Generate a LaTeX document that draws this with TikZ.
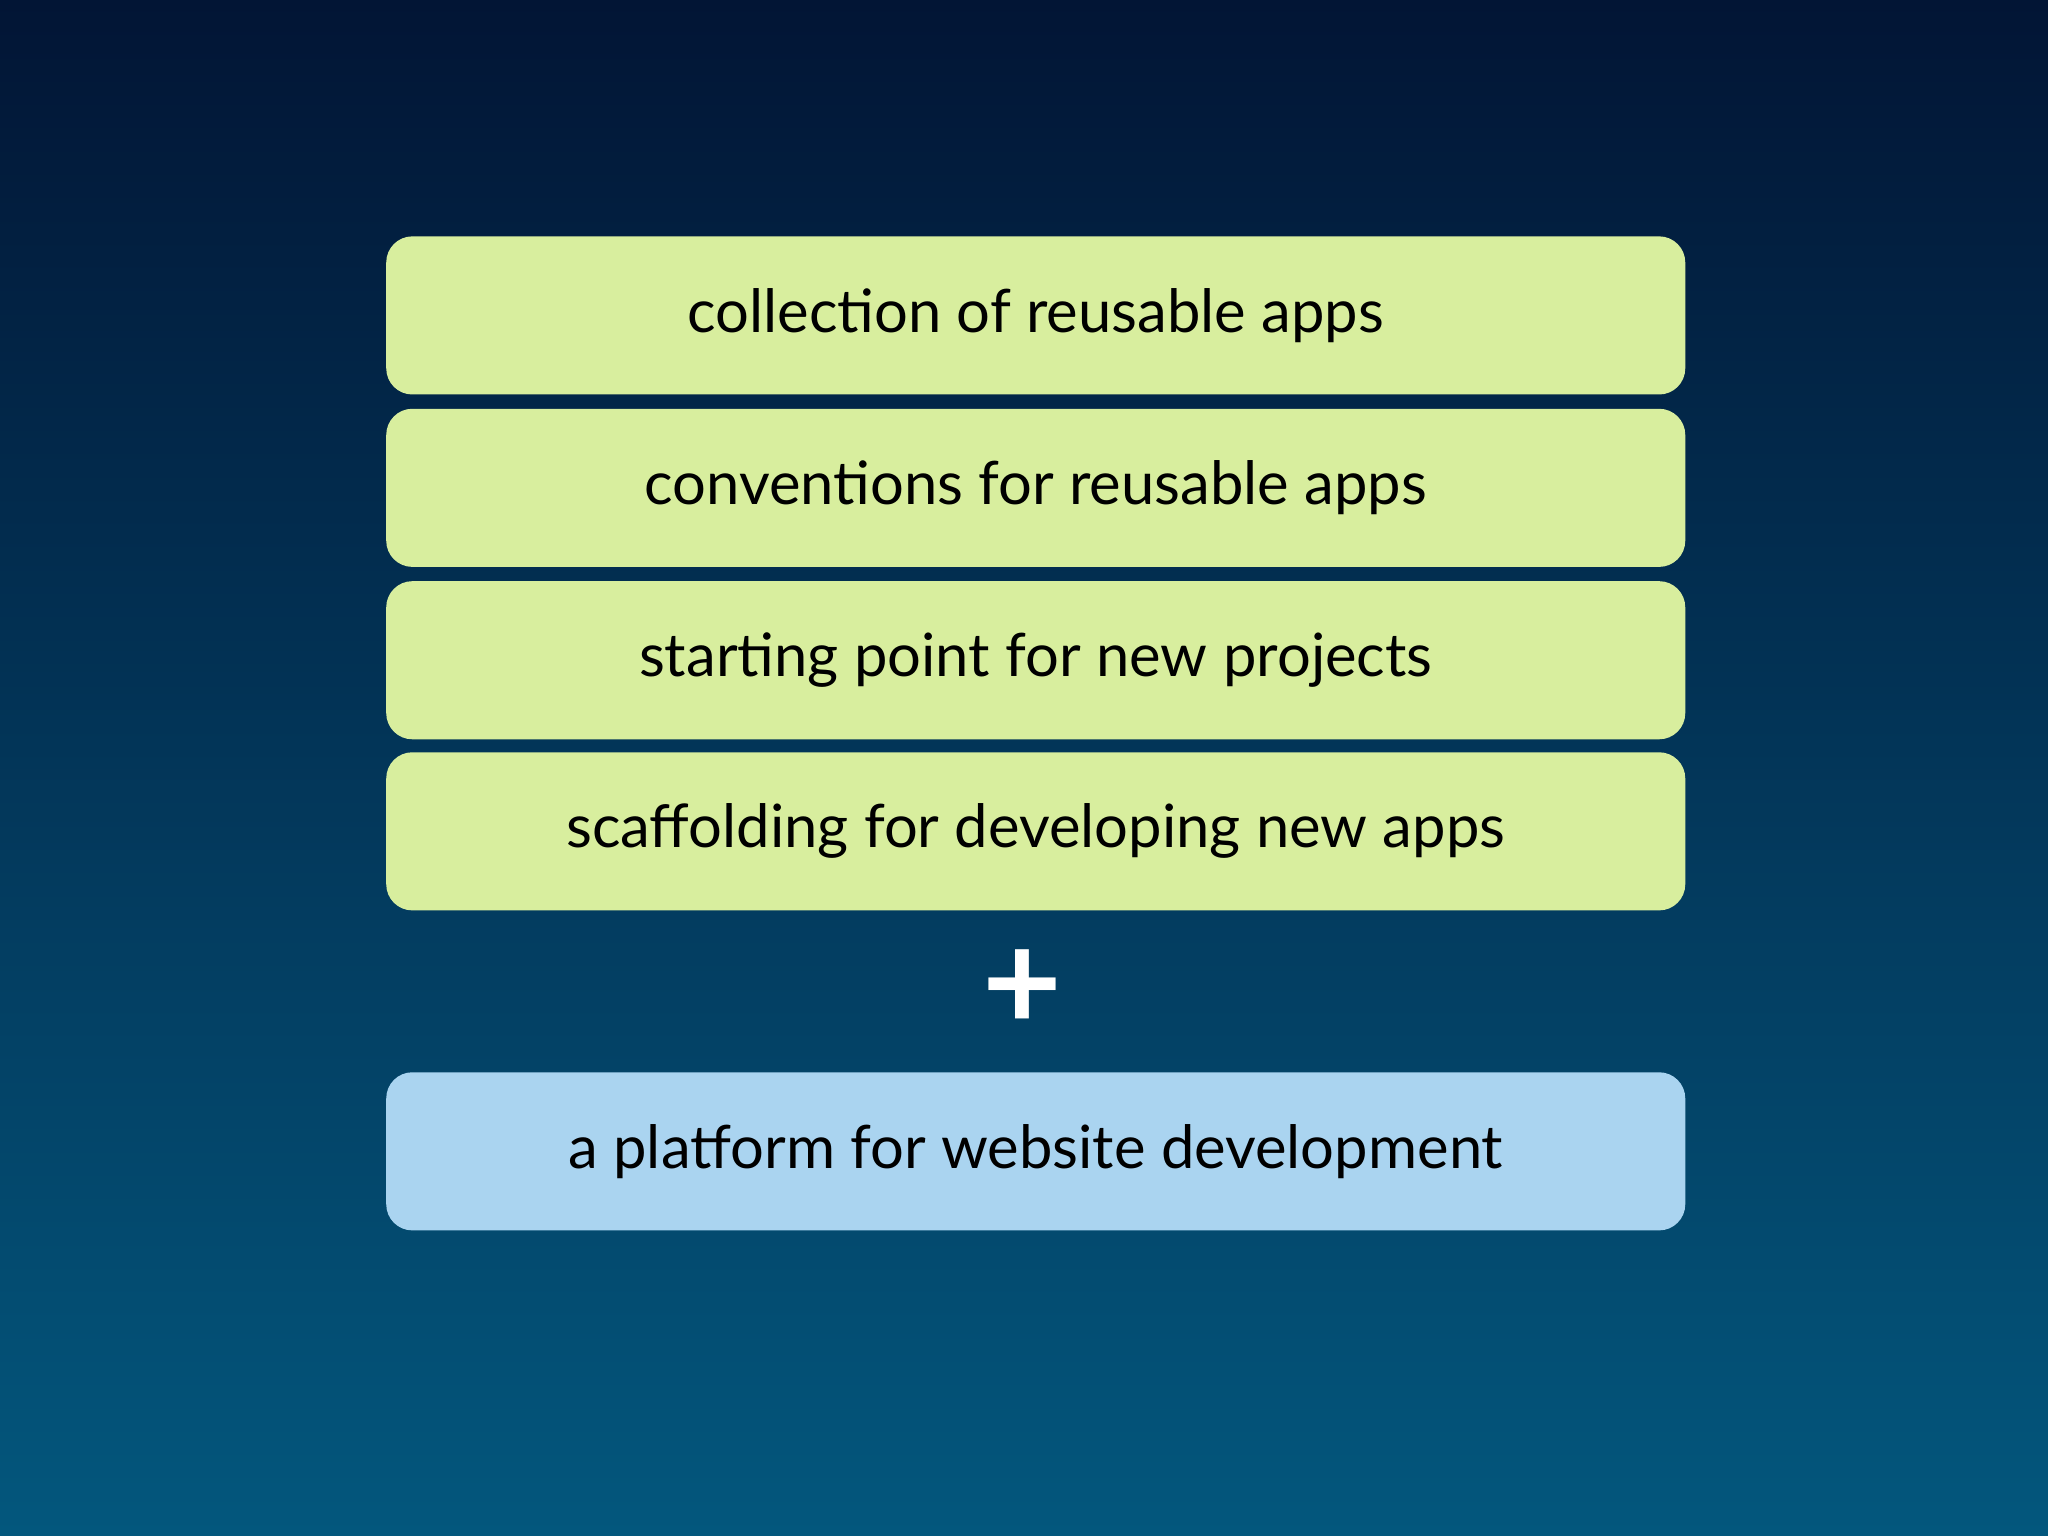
\documentclass[tikz,border=0pt]{standalone}
\usepackage{fontspec}
\setmainfont{Lato}
\definecolor{bgtop}{HTML}{021535}
\definecolor{bgbot}{HTML}{03577D}
\definecolor{boxg}{HTML}{D8EE9E}
\definecolor{boxb}{HTML}{AAD4F0}
\begin{document}
\begin{tikzpicture}[x=0.01cm,y=-0.01cm,
  card/.style={rounded corners=0.2cm,minimum width=9.94cm,minimum height=1.21cm,inner sep=0pt,font=\fontsize{13pt}{15pt}\selectfont,text=black}]
\shade[top color=bgtop,bottom color=bgbot] (0,0) rectangle (1568,1176);
\useasboundingbox (0,0) rectangle (1568,1176);
\node[card,fill=boxg] (a) at (793,241.5) {collection of reusable apps};
\node[card,fill=boxg] (b) at (793,373.5) {conventions for reusable apps};
\node[card,fill=boxg] (c) at (793,505.5) {starting point for new projects};
\node[card,fill=boxg] (d) at (793,636.5) {scaffolding for developing new apps};
\node[text=white,font=\fontsize{30pt}{32pt}\selectfont\bfseries] (p) at (783,758) {+};
\node[card,fill=boxb] (e) at (793,881.5) {a platform for website development};
\end{tikzpicture}
\end{document}
